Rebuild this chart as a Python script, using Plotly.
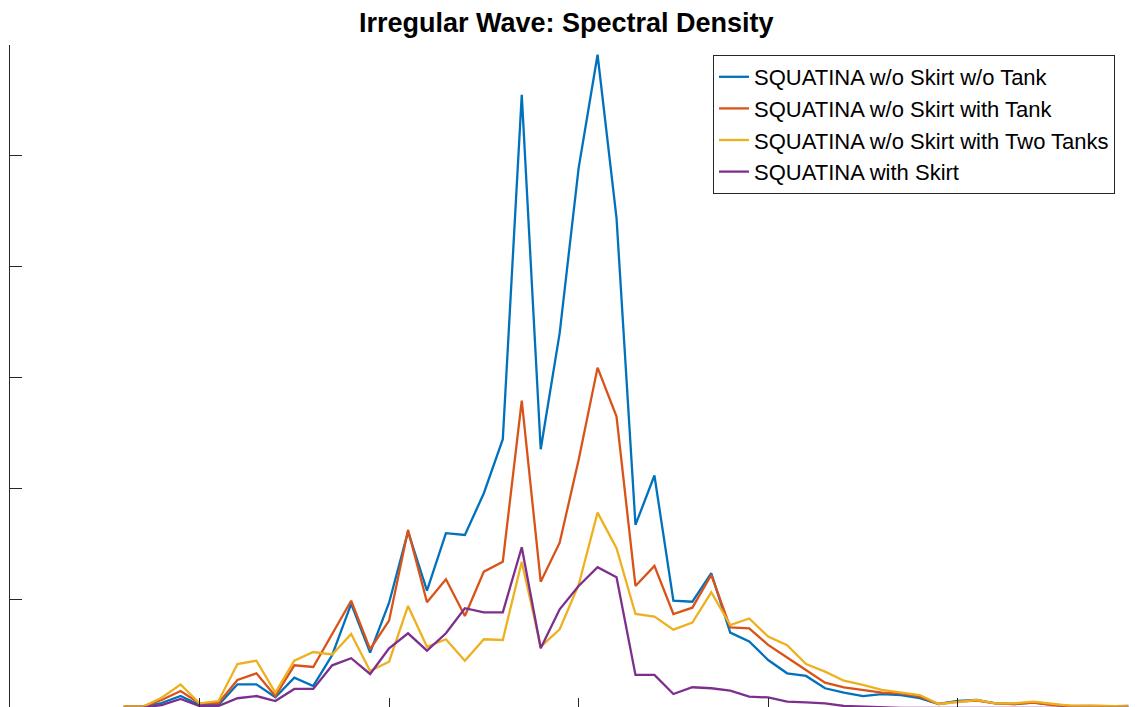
import plotly.graph_objects as go

# sample index (frequency bins)
bins = list(range(-4, 50))

no_skirt_no_tank = [0.03, 0.03, 0.063, 0.126, 0.045, 0.045, 0.232, 0.232, 0.115, 0.292,
                    0.217, 0.496, 0.957, 0.517, 0.968, 1.609, 1.077, 1.595, 1.579, 1.956,
                    2.443, 5.551, 2.353, 3.400, 4.889, 5.912, 4.438, 1.670, 2.116, 0.986,
                    0.977, 1.234, 0.698, 0.618, 0.451, 0.331, 0.307, 0.196, 0.156, 0.126,
                    0.144, 0.135, 0.106, 0.054, 0.081, 0.090, 0.060, 0.054, 0.066, 0.045,
                    0.030, 0.030, 0.036, 0.036]

no_skirt_tank = [0.03, 0.03, 0.090, 0.171, 0.059, 0.063, 0.271, 0.331, 0.126, 0.403,
                 0.388, 0.690, 0.986, 0.548, 0.806, 1.625, 0.972, 1.180, 0.848, 1.248,
                 1.338, 2.792, 1.158, 1.510, 2.256, 3.089, 2.647, 1.119, 1.300, 0.866,
                 0.923, 1.218, 0.746, 0.737, 0.587, 0.474, 0.361, 0.246, 0.205, 0.181,
                 0.156, 0.151, 0.120, 0.054, 0.075, 0.084, 0.060, 0.054, 0.066, 0.045,
                 0.036, 0.036, 0.036, 0.033]

no_skirt_two_tanks = [0.03, 0.03, 0.111, 0.230, 0.060, 0.081, 0.415, 0.445, 0.156, 0.445,
                      0.523, 0.501, 0.686, 0.352, 0.436, 0.939, 0.571, 0.638, 0.445, 0.638,
                      0.632, 1.338, 0.571, 0.728, 1.128, 1.781, 1.459, 0.866, 0.842, 0.725,
                      0.788, 1.062, 0.767, 0.826, 0.662, 0.584, 0.415, 0.346, 0.264, 0.226,
                      0.181, 0.156, 0.135, 0.054, 0.075, 0.090, 0.060, 0.060, 0.075, 0.054,
                      0.036, 0.039, 0.039, 0.033]

with_skirt = [0.02, 0.02, 0.045, 0.099, 0.036, 0.036, 0.106, 0.126, 0.081, 0.190,
              0.190, 0.403, 0.467, 0.325, 0.557, 0.692, 0.535, 0.692, 0.918, 0.880,
              0.882, 1.468, 0.557, 0.909, 1.119, 1.288, 1.198, 0.316, 0.316, 0.144,
              0.205, 0.196, 0.174, 0.120, 0.113, 0.075, 0.069, 0.060, 0.036, 0.030,
              0.020, 0.020, 0.020, 0.020, 0.020, 0.020, 0.020, 0.020, 0.020, 0.020,
              0.020, 0.020, 0.020, 0.020]

names = ["SQUATINA w/o Skirt w/o Tank", "SQUATINA w/o Skirt with Tank",
         "SQUATINA w/o Skirt with Two Tanks", "SQUATINA with Skirt"]
colors = ["#0072BD", "#D95319", "#EDB120", "#7E2F8E"]
series = [no_skirt_no_tank, no_skirt_tank, no_skirt_two_tanks, with_skirt]

x_ticks = [-10, 0, 10, 20, 30, 40]
y_ticks = [0, 1, 2, 3, 4, 5, 6]

fig = go.Figure()
for nm, col, ys in zip(names, colors, series):
    fig.add_trace(go.Scatter(x=bins, y=ys, mode="lines", name=nm,
                             line=dict(color=col, width=2.3)))

axis_col = "#262626"
fig.update_layout(
    width=1137, height=707,
    margin=dict(l=10, r=0, t=45, b=0, autoexpand=False),
    paper_bgcolor="white", plot_bgcolor="white",
    title=dict(text="<b>Irregular Wave: Spectral Density</b>",
               x=0.4936, xref="paper", xanchor="center",
               y=1 - 23 / 707, yref="container", yanchor="middle",
               font=dict(family="Liberation Sans, Arial, sans-serif", size=27, color="black")),
    xaxis=dict(range=[-10, 49.46], showline=False, showgrid=False, zeroline=False,
               ticks="inside", ticklen=9, tickwidth=1, tickcolor=axis_col,
               tickvals=x_ticks, showticklabels=False, automargin=False),
    yaxis=dict(range=[0.027, 6], showline=True, linecolor=axis_col, linewidth=1,
               showgrid=False, zeroline=False,
               ticks="inside", ticklen=12, tickwidth=1, tickcolor=axis_col,
               tickvals=y_ticks, showticklabels=False, automargin=False),
    legend=dict(x=(713 - 10) / 1127, y=(707 - 55) / 662, xanchor="left", yanchor="top",
                bgcolor="white", bordercolor=axis_col, borderwidth=1,
                font=dict(family="Liberation Sans, Arial, sans-serif", size=22, color="black"),
                itemwidth=30, tracegroupgap=0),
    showlegend=True,
)

fig.write_html("out.html")
